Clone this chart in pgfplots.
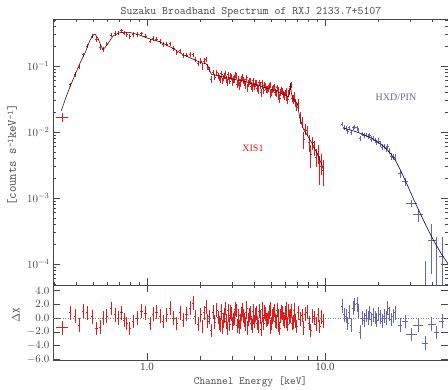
\documentclass[border=0pt]{standalone}
\usepackage{pgfplots}
\pgfplotsset{compat=1.18}
\usepackage{pgfplotstable}
\usepackage{fontspec}
\setmainfont{Liberation Serif}
\definecolor{xisred}{RGB}{230,25,25}
\definecolor{pinblue}{RGB}{100,100,185}
\definecolor{frame}{RGB}{70,70,70}

\pgfplotstableread{
E dE F dF R
0.335 0.025 0.0169 0.0025 -1.4
0.370 0.006 0.052 0.0042 0.8
0.394 0.006 0.075 0.006 0.3
0.415 0.006 0.097 0.008 -1.0
0.438 0.007 0.149 0.011 1.0
0.460 0.007 0.202 0.015 0.8
0.490 0.007 0.284 0.022 0.2
0.520 0.008 0.255 0.023 -1.5
0.545 0.008 0.193 0.017 -1.3
0.568 0.008 0.179 0.014 0.0
0.594 0.009 0.215 0.017 0.3
0.627 0.009 0.295 0.021 1.4
0.661 0.010 0.312 0.024 0.5
0.690 0.010 0.315 0.025 0.0
0.720 0.011 0.342 0.026 0.8
0.745 0.011 0.317 0.026 -0.3
0.770 0.011 0.304 0.026 -0.8
0.800 0.012 0.283 0.026 -1.5
0.838 0.012 0.302 0.025 -0.5
0.880 0.013 0.300 0.024 0.0
0.930 0.014 0.308 0.023 1.0
0.983 0.015 0.282 0.021 0.7
1.040 0.016 0.240 0.020 -0.8
1.085 0.016 0.260 0.020 0.6
1.130 0.017 0.257 0.019 0.9
1.180 0.018 0.238 0.019 0.3
1.235 0.018 0.211 0.018 -0.5
1.290 0.019 0.216 0.017 0.5
1.350 0.020 0.218 0.016 1.5
1.410 0.021 0.183 0.015 0.0
1.470 0.022 0.161 0.014 -0.8
1.530 0.023 0.170 0.013 0.8
1.600 0.024 0.144 0.012 -0.3
1.670 0.025 0.146 0.011 0.6
1.740 0.026 0.150 0.011 1.5
1.810 0.027 0.149 0.010 2.2
1.860 0.027 0.125 0.010 0.2
1.940 0.028 0.109 0.010 -0.9
2.00 0.023 0.119 0.011 0.5
2.05 0.023 0.0986 0.011 -1.2
2.09 0.024 0.119 0.011 0.8
2.14 0.024 0.126 0.011 1.6
2.19 0.025 0.096 0.010 -0.4
2.24 0.025 0.0887 0.0087 0.2
2.29 0.026 0.0623 0.0076 -1.8
2.35 0.026 0.0796 0.0073 0.9
2.40 0.027 0.0682 0.0073 -0.6
2.46 0.028 0.0806 0.0072 1.2
2.51 0.028 0.0717 0.0071 0.1
2.57 0.029 0.0630 0.0070 -1.0
2.63 0.030 0.0738 0.0069 0.7
2.69 0.030 0.0664 0.0069 -0.3
2.75 0.031 0.0775 0.0068 1.4
2.82 0.032 0.0570 0.0067 -1.5
2.88 0.032 0.0686 0.0066 0.4
2.95 0.033 0.0709 0.0065 0.9
3.02 0.034 0.0579 0.0077 -0.8
3.09 0.035 0.0630 0.0076 0.0
3.16 0.036 0.0702 0.0074 1.1
3.24 0.036 0.0573 0.0073 -0.5
3.31 0.037 0.0506 0.0072 -1.3
3.39 0.038 0.0638 0.0071 0.6
3.47 0.039 0.0611 0.0071 0.3
3.55 0.040 0.0517 0.0070 -0.9
3.63 0.041 0.0673 0.0068 1.5
3.72 0.042 0.0547 0.0067 -0.2
3.80 0.043 0.0603 0.0066 0.8
3.89 0.044 0.0469 0.0065 -1.1
3.98 0.045 0.0543 0.0064 0.2
4.07 0.046 0.0551 0.0062 0.5
4.17 0.047 0.0467 0.0061 -0.7
4.27 0.048 0.0560 0.0060 1.0
4.37 0.049 0.0396 0.0059 -1.6
4.47 0.050 0.0503 0.0058 0.4
4.57 0.051 0.0521 0.0056 0.9
4.68 0.053 0.0443 0.0055 -0.3
4.79 0.054 0.0460 0.0055 0.1
4.90 0.055 0.0520 0.0054 1.3
5.01 0.056 0.0398 0.0053 -0.8
5.13 0.058 0.0461 0.0052 0.6
5.25 0.059 0.0400 0.0050 -0.4
5.37 0.060 0.0469 0.0049 1.2
5.50 0.062 0.0352 0.0048 -1.0
5.62 0.063 0.0404 0.0047 0.3
5.75 0.065 0.0412 0.0046 0.7
5.89 0.066 0.0348 0.0044 -0.5
6.03 0.068 0.0420 0.0043 1.4
6.17 0.069 0.0312 0.0042 -0.9
6.31 0.071 0.0410 0.0048 0.2
6.46 0.073 0.0515 0.0055 1.0
6.61 0.074 0.0306 0.0040 -0.6
6.76 0.076 0.0318 0.0036 0.5
6.92 0.078 0.0240 0.0034 -1.2
7.08 0.080 0.0267 0.0046 0.8
7.24 0.081 0.0167 0.0034 -0.1
7.41 0.083 0.0140 0.0026 0.4
7.59 0.085 0.0078 0.0022 -1.4
7.76 0.087 0.0110 0.0020 0.6
7.94 0.089 0.0105 0.0018 0.9
8.13 0.091 0.0069 0.0020 -0.7
8.32 0.094 0.0046 0.0018 -1.8
8.51 0.096 0.0069 0.0016 0.3
8.71 0.098 0.0058 0.0015 0.0
8.91 0.100 0.0042 0.0013 -0.9
9.12 0.102 0.0048 0.0015 0.5
9.33 0.105 0.0030 0.0014 -1.2
9.55 0.107 0.0034 0.0012 0.2
9.77 0.110 0.0026 0.0011 -0.4
2.54 0.028 0.0656 0.0071 -0.7
2.60 0.029 0.0765 0.0070 1.0
2.66 0.030 0.0600 0.0069 -1.3
2.72 0.030 0.0700 0.0068 0.3
2.78 0.031 0.0648 0.0068 -0.4
2.85 0.032 0.0738 0.0067 1.1
2.91 0.032 0.0596 0.0066 -0.9
2.98 0.033 0.0684 0.0065 0.6
3.05 0.034 0.0620 0.0076 -0.2
3.12 0.035 0.0723 0.0075 1.3
3.20 0.036 0.0534 0.0074 -1.1
3.27 0.036 0.0634 0.0073 0.4
3.35 0.037 0.0557 0.0072 -0.6
3.43 0.038 0.0678 0.0071 1.2
3.51 0.039 0.0564 0.0070 -0.3
3.59 0.040 0.0637 0.0069 0.9
3.67 0.041 0.0470 0.0068 -1.4
3.76 0.042 0.0588 0.0067 0.5
3.84 0.043 0.0500 0.0065 -0.7
3.93 0.044 0.0600 0.0064 1.0
4.02 0.045 0.0494 0.0063 -0.5
4.12 0.046 0.0558 0.0062 0.7
4.22 0.047 0.0432 0.0061 -1.2
4.32 0.048 0.0507 0.0059 0.2
4.42 0.049 0.0561 0.0058 1.3
4.52 0.050 0.0429 0.0057 -0.8
4.62 0.051 0.0498 0.0056 0.6
4.73 0.053 0.0447 0.0055 -0.2
4.84 0.054 0.0501 0.0054 0.9
4.95 0.055 0.0376 0.0053 -1.3
5.07 0.056 0.0451 0.0052 0.3
5.19 0.058 0.0481 0.0051 1.1
5.31 0.059 0.0385 0.0050 -0.6
5.43 0.060 0.0424 0.0049 0.4
5.56 0.062 0.0324 0.0047 -1.5
5.68 0.063 0.0427 0.0046 0.9
5.82 0.065 0.0371 0.0045 -0.1
5.96 0.066 0.0396 0.0044 0.7
6.10 0.068 0.0334 0.0043 -0.5
6.24 0.069 0.0385 0.0041 1.1
6.38 0.071 0.0487 0.0056 0.3
6.53 0.073 0.0325 0.0043 -0.8
6.68 0.074 0.0360 0.0038 1.2
6.84 0.076 0.0276 0.0035 -0.4
}\xis

\pgfplotstableread{
E dE F ep em R
12.5 0.15 0.0132 0.0009 0.0009 1.8
12.8 0.15 0.0118 0.0009 0.0009 0.5
13.1 0.15 0.0114 0.0009 0.0009 0.3
13.4 0.15 0.0103 0.0009 0.0009 -0.8
13.7 0.15 0.0116 0.0009 0.0009 0.9
14.0 0.17 0.0098 0.00085 0.00085 -1.0
14.4 0.17 0.01167 0.00083 0.00083 1.5
14.7 0.17 0.0118 0.00082 0.00082 2.0
15.1 0.18 0.01166 0.0008 0.0008 2.1
15.4 0.18 0.0106 0.00078 0.00078 1.0
15.8 0.19 0.00804 0.00077 0.00077 -2.0
16.2 0.19 0.00929 0.00074 0.00074 0.0
16.6 0.20 0.0088 0.00072 0.00072 -0.3
17.0 0.20 0.00907 0.0007 0.0007 0.4
17.4 0.20 0.00855 0.00068 0.00068 0.0
17.8 0.21 0.00885 0.00067 0.00067 0.8
18.2 0.21 0.00788 0.00072 0.00072 -0.2
18.6 0.22 0.00808 0.0007 0.0007 0.5
19.1 0.22 0.00748 0.00067 0.00067 0.1
19.5 0.23 0.00699 0.00065 0.00065 -0.3
20.0 0.24 0.0073 0.00069 0.00069 0.6
20.5 0.24 0.00665 0.00065 0.00065 0.2
21.0 0.25 0.00594 0.00062 0.00062 -0.4
21.5 0.25 0.00607 0.00059 0.00059 0.3
22.0 0.26 0.0056 0.00056 0.00056 0.0
22.5 0.26 0.00607 0.00053 0.00053 1.5
23.0 0.27 0.00518 0.00053 0.00053 0.6
23.6 0.28 0.0043 0.00048 0.00048 -0.2
24.2 0.29 0.00421 0.00045 0.00045 0.3
24.8 0.30 0.0042 0.00046 0.00046 0.8
26.4 0.8 0.00234 0.00032 0.00032 -1.0
28.1 1.0 0.00177 0.00025 0.00025 -0.5
30.7 2.0 0.00083 0.00011 0.00011 -2.4
33.4 2.1 0.00056 0.00012 0.00012 -1.0
36.5 1.5 0.00003 0.00008 0.000029 -3.6
39.8 2.0 0.00023 0.00017 0.00016 -0.9
42.4 1.2 0.00004 0.00022 0.000039 -2.1
45.3 1.5 0.00013 0.00013 0.000125 -0.4
}\pin

\pgfplotstableread{
E F
0.33 0.021
0.35 0.033
0.37 0.049
0.394 0.073
0.42 0.110
0.45 0.160
0.478 0.245
0.50 0.295
0.51 0.305
0.53 0.265
0.55 0.205
0.565 0.180
0.58 0.188
0.60 0.215
0.645 0.285
0.70 0.318
0.75 0.325
0.80 0.322
0.90 0.297
1.0 0.265
1.18 0.232
1.4 0.185
1.6 0.148
1.8 0.128
2.0 0.113
2.15 0.108
2.20 0.100
2.25 0.085
2.30 0.075
2.5 0.071
3.0 0.064
3.5 0.0585
4.0 0.053
4.5 0.048
5.0 0.044
5.5 0.040
6.0 0.036
6.25 0.034
6.33 0.040
6.40 0.052
6.47 0.040
6.55 0.033
6.7 0.031
7.0 0.027
7.1 0.021
7.3 0.0145
7.6 0.0108
8.0 0.0087
8.5 0.0066
9.0 0.0048
9.5 0.0034
9.8 0.0027
}\xismodel

\pgfplotstableread{
E F
12.6 0.01148
14.1 0.01059
15.8 0.00955
17.8 0.00832
20.0 0.00692
22.4 0.00537
25.1 0.00355
28.2 0.00186
31.6 0.000933
35.5 0.000479
39.8 0.000257
44.7 0.000148
50.1 0.0000933
}\pinmodel

\newcommand{\sups}[1]{\raisebox{0.55ex}{\fontsize{8.5}{9}\selectfont #1}}

\pgfplotsset{
  errpts/.style={color=#1, only marks, mark=*, mark size=0pt,
    mark options={draw=none, fill=none},
    error bars/error mark=none,
    error bars/error bar style={draw=#1, solid, line width=0.55pt}},
}

\begin{document}
\begin{tikzpicture}
\useasboundingbox (0pt,0pt) rectangle (448pt,390pt);

\begin{axis}[
  scale only axis, width=395pt, height=266pt,
  at={(53pt,105pt)}, anchor=south west,
  xmode=log, ymode=log, xmin=0.2965, xmax=49.1, ymin=4.81e-5, ymax=0.515,
  axis line style={frame, line width=0.5pt},
  major tick style={frame, line width=0.4pt},
  minor tick style={frame, line width=0.4pt},
  major tick length=7pt, minor tick length=3.5pt,
  tick align=inside,
  ticklabel style={font=\fontsize{11}{13}\selectfont, text=frame},
  xticklabels={},
]
\addplot[errpts=xisred, error bars/.cd, x dir=both, x explicit, y dir=both, y explicit]
  table[x=E, y=F, x error=dE, y error=dF] {\xis};
\addplot[black!80!red, line width=0.55pt] table[x=E, y=F] {\xismodel};
\addplot[errpts=pinblue, error bars/.cd, x dir=both, x explicit, y dir=both, y explicit]
  table[x=E, y=F, x error=dE, y error plus=ep, y error minus=em] {\pin};
\addplot[black!60!blue, line width=0.6pt, smooth] table[x=E, y=F] {\pinmodel};
\end{axis}

\begin{axis}[
  scale only axis, width=395pt, height=75pt,
  at={(53pt,30pt)}, anchor=south west,
  xmode=log, xmin=0.2965, xmax=49.1, ymin=-6.1, ymax=4.83,
  axis line style={frame, line width=0.5pt},
  major tick style={frame, line width=0.4pt},
  minor tick style={frame, line width=0.4pt},
  major tick length=7pt, minor tick length=3.5pt,
  tick align=inside,
  ticklabel style={font=\fontsize{11}{13}\selectfont, text=frame},
  ytick={-6,-4,-2,0,2,4},
  yticklabel style={/pgf/number format/.cd, fixed, fixed zerofill, precision=1},
  xtick={1,10}, xticklabels={1.0,10.0},
]
\addplot[gray, dotted, line width=0.5pt] coordinates {(0.2965,0) (49.1,0)};
\addplot[errpts=xisred, error bars/.cd, x dir=both, x explicit, y dir=both, y fixed=1]
  table[x=E, y=R, x error=dE] {\xis};
\addplot[errpts=pinblue, error bars/.cd, x dir=both, x explicit, y dir=both, y fixed=1]
  table[x=E, y=R, x error=dE] {\pin};
\end{axis}

\node[font=\ttfamily\fontsize{11.5}{13}\selectfont, text=frame] at (251pt,378pt) {Suzaku Broadband Spectrum of RXJ 2133.7+5107};
\node[font=\ttfamily\fontsize{11}{13}\selectfont, text=frame] at (250.5pt,8.5pt) {Channel Energy [keV]};
\node[font=\ttfamily\fontsize{12.5}{14}\selectfont, text=frame, rotate=90] at (12pt,235pt) {[counts s\sups{-1}keV\sups{-1}]};
\node[font=\fontsize{11}{13}\selectfont, text=frame, rotate=90] at (16pt,75pt) {$\Delta$\texttt{X}};
\node[font=\fontsize{10}{12}\selectfont, text=xisred] at (253pt,242pt) {XIS1};
\node[font=\fontsize{10}{12}\selectfont, text=pinblue] at (396pt,293pt) {HXD/PIN};
\end{tikzpicture}
\end{document}
